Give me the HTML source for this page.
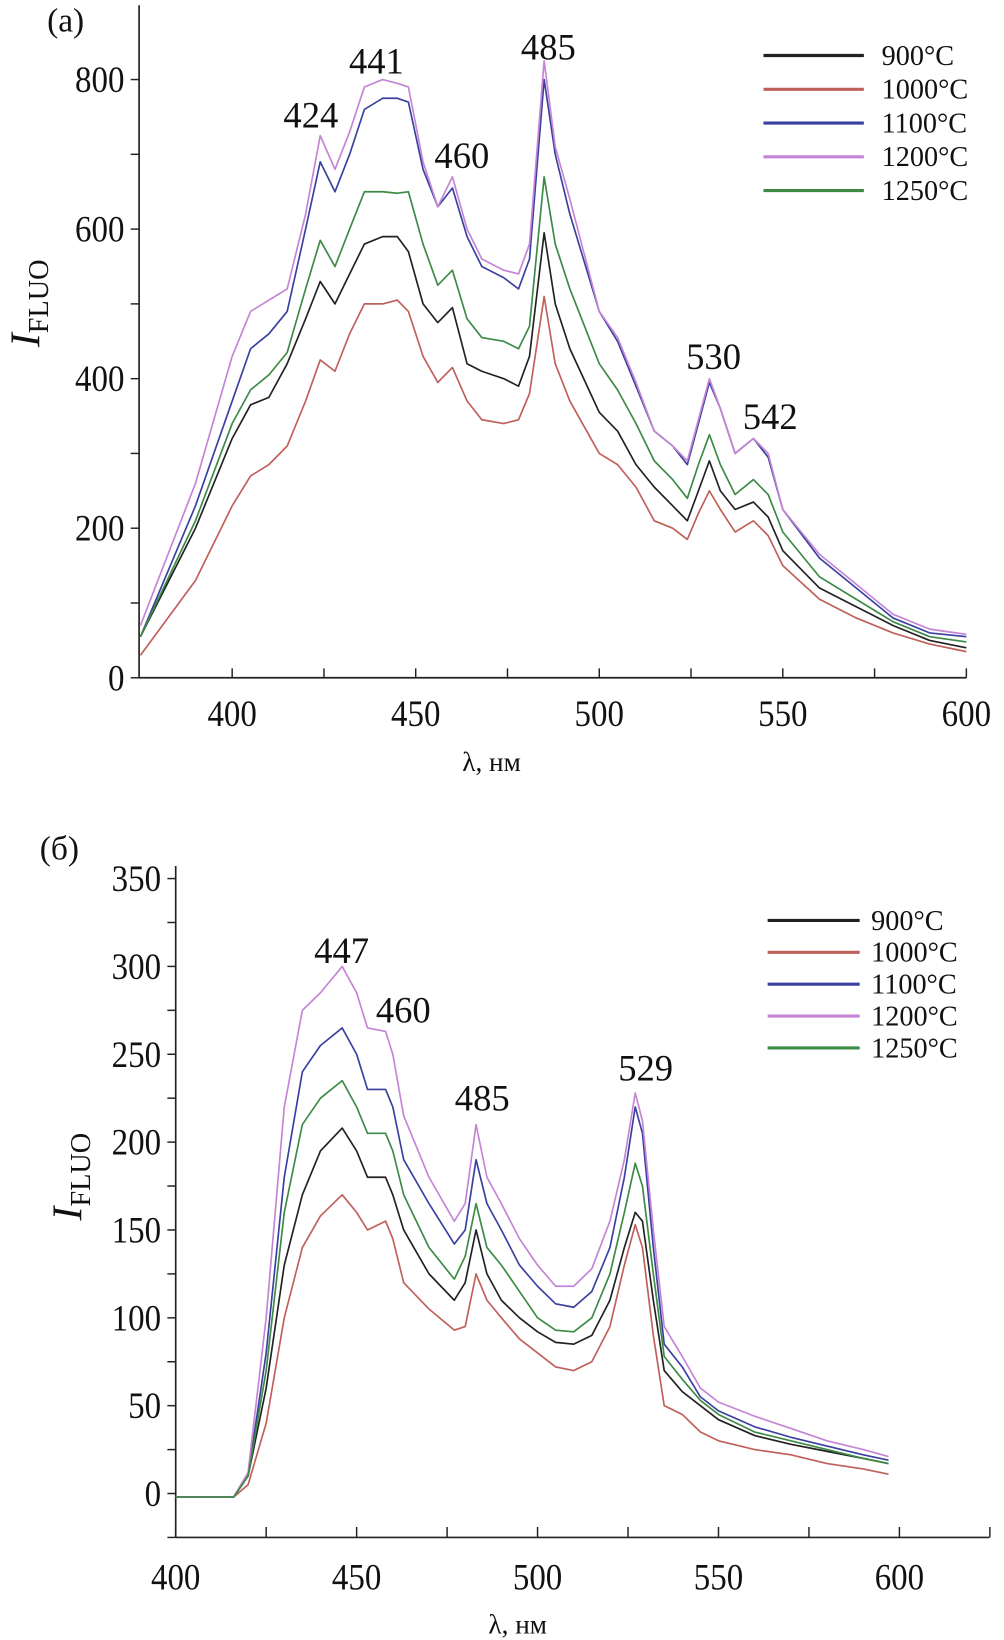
<!DOCTYPE html>
<html><head><meta charset="utf-8"><style>
html,body{margin:0;padding:0;background:#fff}
svg{display:block}
text{font-family:"Liberation Serif",serif;fill:#111}
</style></head><body>
<svg id="fig" width="1004" height="1640" viewBox="0 0 960 1568" xmlns="http://www.w3.org/2000/svg">
<g id="ga"></g>
<g id="gb"></g>
</svg>
<script>
const seriesNames=["900°C","1000°C","1100°C","1200°C","1250°C"];
const seriesColors=["#222222","#c0605a","#3a40a0","#c585d5","#3c8a45"];
// Chart (a)
const aX=[375,390,400,405,410,415,420,424,428,432,436,441,445,448,452,456,460,464,468,474,478,481,485,488,492,500,505,510,515,520,524,527,530,533,537,542,546,550,560,570,580,590,600];
const a900=[55,200,320,365,375,420,480,530,500,540,580,590,590,570,500,475,495,420,410,400,390,430,595,500,440,355,330,285,255,230,210,250,290,250,225,235,215,170,120,95,70,50,40];
const a1000=[30,130,230,270,285,310,370,425,410,460,500,500,505,490,430,395,415,370,345,340,345,380,510,420,370,300,285,255,210,200,185,220,250,225,195,210,190,150,105,80,60,45,35];
const a1100=[55,230,370,440,460,490,600,690,650,700,760,775,775,770,680,630,655,590,550,535,520,560,800,700,620,490,450,390,330,310,285,340,395,360,300,320,295,225,160,120,80,60,55];
const a1200=[70,260,430,490,505,520,620,725,680,730,790,800,795,790,690,630,670,600,560,545,540,580,825,710,640,490,455,395,330,310,290,345,400,360,300,320,300,225,165,125,85,65,58];
const a1250=[55,210,340,385,405,435,520,585,550,600,650,650,648,650,580,525,545,480,455,450,440,470,670,580,520,420,385,340,290,265,240,285,325,285,245,265,245,195,135,105,75,55,48];
const aXTicks=[400,450,500,550,600];
const aYTicks=[0,200,400,600,800];
const aPeaks=[424,441,460,485,530,542];
const aPeakY=[736,808,682,827,413,333];
const aPeakDx=[-9,-6,9,4,4,16];
// Chart (b)
const bX=[400,416,420,425,430,435,440,446,450,453,458,460,463,470,477,480,483,486,490,495,500,505,510,515,520,524,527,529,532,535,540,545,550,560,570,580,590,597];
const b900=[-2,-2,10,60,130,170,195,208,195,180,180,170,150,125,110,120,150,125,110,100,92,86,85,90,110,140,160,155,110,70,58,50,42,33,28,24,20,17];
const b1000=[-2,-2,5,40,100,140,158,170,160,150,155,145,120,105,93,95,125,110,100,88,80,72,70,75,95,130,153,140,90,50,45,35,30,25,22,17,14,11];
const b1100=[-2,-2,10,80,180,240,255,265,250,230,230,220,190,165,142,150,190,165,150,130,118,108,106,115,140,180,220,205,140,85,72,55,47,38,32,27,22,19];
const b1200=[-2,-2,12,100,220,275,285,300,285,265,263,250,215,180,155,165,210,180,165,145,130,118,118,128,155,190,228,212,150,95,78,60,52,44,37,30,25,21];
const b1250=[-2,-2,10,70,160,210,225,235,220,205,205,195,170,140,122,135,165,140,130,115,100,93,92,100,125,160,188,175,125,78,65,53,45,35,30,25,20,17];
const bXTicks=[400,450,500,550,600];
const bYTicks=[0,50,100,150,200,250,300,350];
const bPeaks=[447,460,485,529];
const bPeakY=[302,268,218,235];
const bPeakDx=[-4,10,-1,3];

const NS="http://www.w3.org/2000/svg";
function el(parent,tag,attrs,txt){const e=document.createElementNS(NS,tag);for(const k in attrs)e.setAttribute(k,attrs[k]);if(txt!==undefined)e.textContent=txt;parent.appendChild(e);return e;}

function draw(g,cfg){
  const X=v=>cfg.x0+(v-cfg.vx0)*cfg.kx, Y=v=>cfg.y0-v*cfg.ky;
  const ya=el(g,'line',{x1:cfg.ax,y1:cfg.axTop,x2:cfg.ax,y2:cfg.axBot,stroke:'#222','stroke-width':1.6});
  
  
  const xa=el(g,'line',{x1:cfg.ax,y1:cfg.axBot,x2:cfg.axRight,y2:cfg.axBot,stroke:'#222','stroke-width':1.6});
  
  
  for(let v=cfg.minorStartX;v<=cfg.axMaxX;v+=25){
    const t=el(g,'line',{x1:X(v),y1:cfg.axBot,x2:X(v),y2:cfg.axBot+cfg.tickLen,stroke:'#222','stroke-width':1.4});
    
    
  }
  for(let v=cfg.yMinorStart;v<=cfg.yMax;v+=cfg.yMinor){
    const t=el(g,'line',{x1:cfg.ax-8,y1:Y(v),x2:cfg.ax,y2:Y(v),stroke:'#222','stroke-width':1.4});
    
    
  }
  cfg.xTicks.forEach(v=>{const t=el(g,'text',{x:X(v),y:cfg.xLabY,'font-size':35,'text-anchor':'middle',transform:`translate(${X(v)},0) scale(0.9,1) translate(${-X(v)},0)`},String(v));
    
    });
  cfg.yTicks.forEach(v=>{const xx=cfg.ax-14;const t=el(g,'text',{x:xx,y:Y(v)+12,'font-size':35,'text-anchor':'end',transform:`translate(${xx},0) scale(0.9,1) translate(${-xx},0)`},String(v));
    
    });
  cfg.series.forEach((s,i)=>{
    const d=cfg.xs.map((x,j)=>(j?'L':'M')+X(x).toFixed(1)+' '+Y(s[j]).toFixed(1)).join(' ');
    const p=el(g,'path',{d:d,fill:'none',stroke:seriesColors[i],'stroke-width':1.6,'stroke-linejoin':'round'});
    
    
  });
  cfg.peaks.forEach((v,i)=>{const t=el(g,'text',{x:X(v)+cfg.peakDx[i],y:Y(cfg.peakY[i]),'font-size':35,'text-anchor':'middle'},String(v));
    
    });
  seriesNames.forEach((n,i)=>{
    const yy=cfg.legY+i*cfg.legDy;
    const l=el(g,'line',{x1:cfg.legX1,y1:yy,x2:cfg.legX2,y2:yy,stroke:seriesColors[i],'stroke-width':3});
    
    
    const t=el(g,'text',{x:cfg.legTX,y:yy+9,'font-size':27},n);
    
    
  });
  const pl=el(g,'text',{x:cfg.panelX,y:cfg.panelY,'font-size':32},cfg.panel);
  
  
  const xt=el(g,'text',{x:cfg.xtX,y:cfg.xtY,'font-size':26,'text-anchor':'middle'},'λ, нм');
  
  
  const yt=el(g,'text',{transform:`translate(${cfg.ytX},${cfg.ytY}) rotate(-90)`,'font-size':40,'text-anchor':'middle'});
  
  
  el(yt,'tspan',{'font-style':'italic'},'I');
  el(yt,'tspan',{'font-size':27,dy:8},'FLUO');
}
draw(document.getElementById('ga'),{x0:222,vx0:400,kx:3.51,y0:648,ky:0.715,ax:133,axTop:5,axBot:648,axRight:924,minorStartX:400,axMaxX:600,tickLen:-9,
 yMinorStart:0,yMax:800,yMinor:100,xTicks:aXTicks,yTicks:aYTicks,xLabY:694,xs:aX,series:[a900,a1000,a1100,a1200,a1250],peaks:aPeaks,peakY:aPeakY,peakDx:aPeakDx,
 legY:53,legDy:32.3,legX1:730,legX2:826,legTX:843,panel:'(a)',panelX:45,panelY:30,xtX:470,xtY:737,ytX:38,ytY:290});
draw(document.getElementById('gb'),{x0:168,vx0:400,kx:3.46,y0:1428,ky:1.68,ax:168,axTop:828,axBot:1470,axRight:946,minorStartX:400,axMaxX:625,tickLen:-10,
 yMinorStart:-25,yMax:350,yMinor:25,xTicks:bXTicks,yTicks:bYTicks,xLabY:1520,xs:bX,series:[b900,b1000,b1100,b1200,b1250],peaks:bPeaks,peakY:bPeakY,peakDx:bPeakDx,
 legY:880,legDy:30.5,legX1:734,legX2:822,legTX:833,panel:'(б)',panelX:38,panelY:822,xtX:495,xtY:1562,ytX:78,ytY:1125});
</script>
</body></html>
